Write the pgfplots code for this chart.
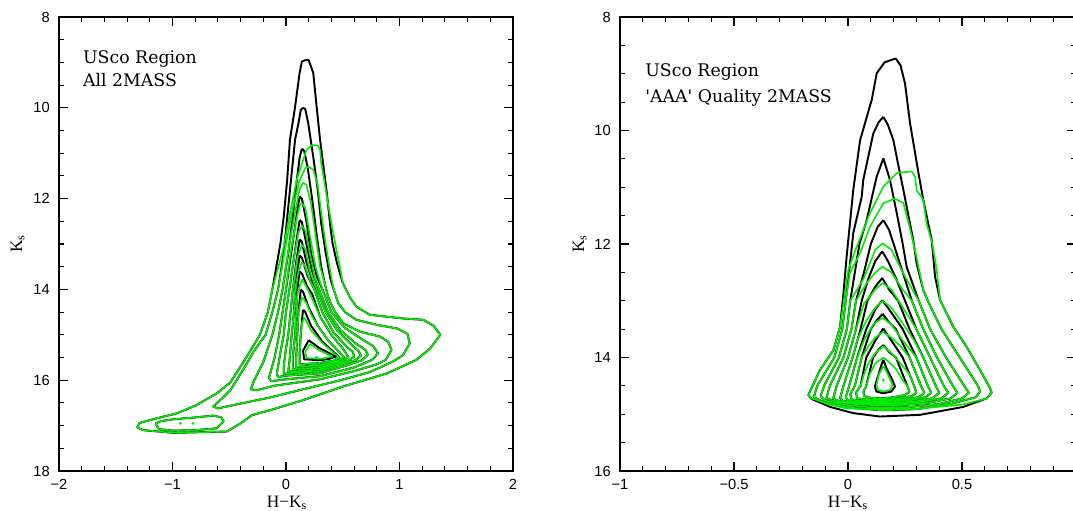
\documentclass[border=0pt]{standalone}
\usepackage{fontspec}
\setmainfont{Liberation Sans}
\newfontfamily\serif{Liberation Serif}
\newfontfamily\anno{DejaVu Serif}
\usepackage{pgfplots}
\pgfplotsset{compat=1.18}
\definecolor{cgreen}{RGB}{0,235,0}
\pgfplotsset{
 bl/.style={black, line width=1.45pt, line join=round, mark=none},
 gr/.style={cgreen, line width=1.2pt, line join=round, mark=none},
 common/.style={
  anchor=south west, scale only axis,
  y dir=reverse,
  axis line style={line width=1.3pt},
  major tick length=6.5pt, minor tick length=3.5pt,
  tick style={black, line width=0.8pt},
  tick label style={font=\fontsize{11}{13}\selectfont, inner sep=0pt},
  xticklabel style={anchor=base, yshift=-13.7pt},
  yticklabel style={anchor=east, xshift=-6.75pt},
 }
}
\begin{document}
\begin{tikzpicture}
% ---------------- LEFT PANEL ----------------
\begin{axis}[common,
 at={(44.25pt,29.25pt)}, width=340.5pt, height=340.5pt,
 xmin=-2, xmax=2, ymin=8, ymax=18,
 xtick={-2,-1,0,1,2}, xticklabels={−2,−1,0,1,2},
 ytick={8,10,12,14,16,18}, yticklabels={8,10,12,14,16,18},
 minor x tick num=4, minor y tick num=3]
% black contours
\addplot[bl] coordinates {(0.17,8.95) (0.20,8.95) (0.24,9.23) (0.27,9.98) (0.30,10.7) (0.36,11.88) (0.39,12.6) (0.41,12.98) (0.45,13.43) (0.50,13.86) (0.56,14.16) (0.62,14.38) (0.74,14.56) (1.03,14.64) (1.21,14.67) (1.30,14.8) (1.36,15.0) (1.27,15.3) (1.15,15.55) (0.89,15.85) (0.50,16.14) (0.15,16.44) (-0.14,16.66) (-0.30,16.77) (-0.40,16.95) (-0.52,17.13) (-0.99,17.16) (-1.26,17.1) (-1.31,17.04) (-1.29,16.94) (-1.14,16.84) (-0.96,16.73) (-0.79,16.55) (-0.61,16.29) (-0.49,16.05) (-0.35,15.5) (-0.23,15.0) (-0.16,14.5) (-0.12,14.0) (-0.05,13.0) (-0.02,12.4) (0.01,11.6) (0.035,10.7) (0.08,9.98) (0.12,9.23) (0.14,8.98) (0.17,8.95)};
\addplot[bl] coordinates {(0.15,10.0) (0.17,10.03) (0.196,10.34) (0.24,11.08) (0.28,11.81) (0.31,12.54) (0.35,13.2) (0.39,13.75) (0.42,14.0) (0.46,14.3) (0.52,14.5) (0.62,14.67) (0.80,14.78) (0.98,14.86) (1.07,14.98) (1.09,15.19) (1.03,15.45) (0.95,15.58) (0.74,15.82) (0.45,16.02) (0.15,16.2) (-0.14,16.38) (-0.43,16.53) (-0.60,16.62) (-0.64,16.58) (-0.58,16.44) (-0.49,16.22) (-0.38,15.78) (-0.28,15.35) (-0.18,15.0) (-0.12,14.5) (-0.07,14.0) (-0.02,13.2) (0.02,12.18) (0.05,11.44) (0.08,10.7) (0.11,10.34) (0.13,10.05) (0.15,10.0)};
\addplot[bl] coordinates {(-1.15,16.95) (-1.10,16.9) (-0.99,16.86) (-0.80,16.82) (-0.64,16.78) (-0.57,16.82) (-0.55,16.9) (-0.61,17.06) (-0.80,17.1) (-0.99,17.11) (-1.12,17.08) (-1.15,16.95)};
\addplot[bl] coordinates {(0.14,10.9) (0.16,10.95) (0.19,11.3) (0.23,12.0) (0.27,12.8) (0.31,13.5) (0.34,13.85) (0.37,14.16) (0.42,14.45) (0.505,14.75) (0.65,14.93) (0.83,15.04) (0.90,15.15) (0.93,15.33) (0.88,15.55) (0.80,15.65) (0.60,15.8) (0.30,15.98) (-0.10,16.12) (-0.26,16.22) (-0.31,16.2) (-0.28,16.0) (-0.20,15.6) (-0.12,15.0) (-0.07,14.5) (-0.03,14.0) (0.02,13.2) (0.06,12.4) (0.09,11.7) (0.12,11.1) (0.14,10.9)};
\addplot[bl] coordinates {(0.12,11.95) (0.14,12.0) (0.18,12.5) (0.22,13.2) (0.27,13.7) (0.32,14.0) (0.40,14.5) (0.52,14.85) (0.67,15.1) (0.77,15.25) (0.81,15.41) (0.76,15.55) (0.60,15.72) (0.30,15.91) (0.00,15.98) (-0.13,16.02) (-0.15,15.95) (-0.10,15.5) (-0.06,15.0) (-0.03,14.5) (0.00,14.0) (0.04,13.3) (0.08,12.6) (0.11,12.1) (0.12,11.95)};
\addplot[bl] coordinates {(0.12,12.47) (0.14,12.52) (0.18,13.0) (0.23,13.6) (0.29,14.0) (0.37,14.5) (0.48,14.9) (0.62,15.2) (0.70,15.33) (0.72,15.44) (0.67,15.56) (0.50,15.7) (0.30,15.85) (0.00,15.9) (-0.07,15.93) (-0.08,15.85) (-0.05,15.4) (-0.02,15.0) (0.00,14.5) (0.03,14.0) (0.07,13.3) (0.10,12.8) (0.12,12.47)};
\addplot[bl] coordinates {(0.12,12.9) (0.14,12.95) (0.18,13.4) (0.23,13.8) (0.27,14.0) (0.35,14.5) (0.45,14.9) (0.57,15.2) (0.64,15.36) (0.66,15.46) (0.61,15.56) (0.45,15.68) (0.30,15.80) (0.05,15.84) (-0.02,15.86) (-0.02,15.7) (0.00,15.3) (0.02,15.0) (0.04,14.5) (0.06,14.0) (0.09,13.4) (0.12,12.9)};
\addplot[bl] coordinates {(0.12,13.25) (0.14,13.3) (0.19,13.7) (0.25,14.0) (0.32,14.5) (0.42,14.95) (0.53,15.25) (0.59,15.38) (0.60,15.48) (0.55,15.57) (0.40,15.68) (0.30,15.76) (0.10,15.8) (0.02,15.81) (0.03,15.6) (0.04,15.3) (0.05,15.0) (0.07,14.5) (0.08,14.0) (0.10,13.6) (0.12,13.25)};
\addplot[bl] coordinates {(0.12,13.6) (0.14,13.65) (0.19,13.95) (0.23,14.1) (0.30,14.6) (0.40,15.0) (0.50,15.3) (0.55,15.49) (0.50,15.57) (0.30,15.72) (0.10,15.75) (0.06,15.76) (0.06,15.5) (0.08,15.0) (0.09,14.5) (0.10,14.0) (0.12,13.6)};
\addplot[bl] coordinates {(0.13,14.0) (0.15,14.05) (0.20,14.4) (0.28,14.8) (0.38,15.15) (0.47,15.38) (0.51,15.5) (0.45,15.58) (0.30,15.67) (0.09,15.71) (0.09,15.5) (0.10,15.0) (0.11,14.5) (0.13,14.0)};
\addplot[bl] coordinates {(0.15,14.45) (0.17,14.5) (0.22,14.8) (0.32,15.15) (0.42,15.38) (0.47,15.5) (0.42,15.57) (0.30,15.62) (0.12,15.65) (0.12,15.4) (0.13,15.0) (0.14,14.7) (0.15,14.45)};
\addplot[bl] coordinates {(0.20,15.12) (0.30,15.3) (0.44,15.48) (0.38,15.53) (0.30,15.56) (0.16,15.54) (0.15,15.35) (0.20,15.12)};
% green contours
\addplot[gr] coordinates {(0.23,10.82) (0.28,10.83) (0.30,10.93) (0.31,11.22) (0.36,11.96) (0.40,12.54) (0.45,13.2) (0.48,13.57) (0.50,13.86) (0.56,14.16) (0.62,14.38) (0.74,14.56) (1.03,14.64) (1.21,14.67) (1.30,14.8) (1.36,15.0) (1.27,15.3) (1.15,15.55) (0.89,15.85) (0.50,16.14) (0.15,16.44) (-0.14,16.66) (-0.30,16.77) (-0.40,16.95) (-0.52,17.13) (-0.99,17.16) (-1.26,17.1) (-1.31,17.04) (-1.29,16.94) (-1.14,16.84) (-0.96,16.73) (-0.79,16.55) (-0.61,16.29) (-0.49,16.05) (-0.35,15.5) (-0.23,15.0) (-0.16,14.5) (-0.12,14.0) (-0.02,13.06) (0.035,12.32) (0.094,11.59) (0.18,10.93) (0.23,10.82)};
\addplot[gr] coordinates {(0.20,11.3) (0.24,11.36) (0.28,11.7) (0.31,12.3) (0.35,13.0) (0.39,13.6) (0.42,14.0) (0.46,14.3) (0.52,14.5) (0.62,14.67) (0.80,14.78) (0.98,14.86) (1.07,14.98) (1.09,15.19) (1.03,15.45) (0.95,15.58) (0.74,15.82) (0.45,16.02) (0.15,16.2) (-0.14,16.38) (-0.43,16.53) (-0.60,16.62) (-0.64,16.58) (-0.58,16.44) (-0.49,16.22) (-0.38,15.78) (-0.28,15.35) (-0.18,15.0) (-0.12,14.5) (-0.07,14.0) (0.0,13.0) (0.06,12.2) (0.12,11.6) (0.17,11.33) (0.20,11.3)};
\addplot[gr] coordinates {(-1.15,16.95) (-1.10,16.9) (-0.99,16.86) (-0.80,16.82) (-0.64,16.78) (-0.57,16.82) (-0.55,16.9) (-0.61,17.06) (-0.80,17.1) (-0.99,17.11) (-1.12,17.08) (-1.15,16.95)};
\addplot[gr] coordinates {(0.15,11.65) (0.18,11.7) (0.22,12.1) (0.26,12.8) (0.30,13.5) (0.34,13.85) (0.37,14.16) (0.42,14.45) (0.505,14.75) (0.65,14.93) (0.83,15.04) (0.90,15.15) (0.93,15.33) (0.88,15.55) (0.80,15.65) (0.60,15.8) (0.30,15.98) (-0.10,16.12) (-0.26,16.22) (-0.31,16.2) (-0.28,16.0) (-0.20,15.6) (-0.12,15.0) (-0.07,14.5) (-0.03,14.0) (0.03,13.0) (0.08,12.3) (0.12,11.8) (0.15,11.65)};
\addplot[gr] coordinates {(0.14,12.1) (0.17,12.2) (0.21,12.8) (0.26,13.5) (0.32,14.0) (0.40,14.5) (0.52,14.85) (0.67,15.1) (0.77,15.25) (0.81,15.41) (0.76,15.55) (0.60,15.72) (0.30,15.91) (0.00,15.98) (-0.13,16.02) (-0.15,15.95) (-0.10,15.5) (-0.06,15.0) (-0.03,14.5) (0.00,14.0) (0.04,13.2) (0.09,12.5) (0.12,12.15) (0.14,12.1)};
\addplot[gr] coordinates {(0.14,12.6) (0.17,12.7) (0.21,13.2) (0.25,13.7) (0.29,14.0) (0.37,14.5) (0.48,14.9) (0.62,15.2) (0.70,15.33) (0.72,15.44) (0.67,15.56) (0.50,15.7) (0.30,15.85) (0.00,15.9) (-0.07,15.93) (-0.08,15.85) (-0.05,15.4) (-0.02,15.0) (0.00,14.5) (0.03,14.0) (0.07,13.3) (0.11,12.75) (0.14,12.6)};
\addplot[gr] coordinates {(0.14,13.02) (0.17,13.1) (0.21,13.6) (0.27,14.0) (0.35,14.5) (0.45,14.9) (0.57,15.2) (0.64,15.36) (0.66,15.46) (0.61,15.56) (0.45,15.68) (0.30,15.80) (0.05,15.84) (-0.02,15.86) (-0.02,15.7) (0.00,15.3) (0.02,15.0) (0.04,14.5) (0.06,14.0) (0.10,13.3) (0.14,13.02)};
\addplot[gr] coordinates {(0.14,13.4) (0.17,13.5) (0.21,13.8) (0.25,14.0) (0.32,14.5) (0.42,14.95) (0.53,15.25) (0.59,15.38) (0.60,15.48) (0.55,15.57) (0.40,15.68) (0.30,15.76) (0.10,15.8) (0.02,15.81) (0.03,15.6) (0.04,15.3) (0.05,15.0) (0.07,14.5) (0.08,14.0) (0.11,13.6) (0.14,13.4)};
\addplot[gr] coordinates {(0.14,13.78) (0.17,13.9) (0.23,14.2) (0.30,14.6) (0.40,15.0) (0.50,15.3) (0.55,15.49) (0.50,15.57) (0.30,15.72) (0.10,15.75) (0.06,15.76) (0.06,15.5) (0.08,15.0) (0.09,14.5) (0.10,14.1) (0.14,13.78)};
\addplot[gr] coordinates {(0.14,14.17) (0.18,14.3) (0.22,14.55) (0.28,14.8) (0.38,15.15) (0.47,15.38) (0.51,15.5) (0.45,15.58) (0.30,15.67) (0.09,15.71) (0.09,15.5) (0.10,15.0) (0.11,14.5) (0.14,14.17)};
\addplot[gr] coordinates {(0.16,14.62) (0.18,14.7) (0.22,14.9) (0.32,15.18) (0.42,15.4) (0.47,15.5) (0.42,15.57) (0.30,15.62) (0.12,15.65) (0.12,15.4) (0.13,15.0) (0.14,14.75) (0.16,14.62)};
\addplot[gr] coordinates {(0.21,15.2) (0.30,15.35) (0.41,15.48) (0.30,15.53) (0.18,15.51) (0.17,15.38) (0.21,15.2)};
\addplot[cgreen, only marks, mark=*, mark size=0.9pt] coordinates {(-0.93,16.95) (-0.82,16.95) (0.27,15.5)};
\node[anchor=base west, inner sep=0pt, font=\anno\fontsize{13}{15}\selectfont] at (axis cs:-1.79,9.035) {USco Region};
\node[anchor=base west, inner sep=0pt, font=\anno\fontsize{13}{15}\selectfont] at (axis cs:-1.79,9.535) {All 2MASS};
\end{axis}
% ---------------- RIGHT PANEL ----------------
\begin{axis}[common,
 at={(465pt,29.25pt)}, width=342pt, height=340.5pt,
 xmin=-1, xmax=1, ymin=8, ymax=16,
 xtick={-1,-0.5,0,0.5,1}, xticklabels={−1,−0.5,0,0.5,{}},
 ytick={8,10,12,14,16}, yticklabels={8,10,12,14,16},
 minor x tick num=4, minor y tick num=3]
% black contours
\addplot[bl] coordinates {(0.209,8.73) (0.23,8.85) (0.25,9.17) (0.272,9.87) (0.309,10.75) (0.33,11.22) (0.367,11.93) (0.382,12.58) (0.404,12.99) (0.462,13.46) (0.52,13.81) (0.579,14.22) (0.623,14.54) (0.63,14.62) (0.608,14.72) (0.506,14.87) (0.316,15.01) (0.14,15.04) (0.023,14.98) (-0.079,14.87) (-0.16,14.73) (-0.174,14.66) (-0.167,14.6) (-0.123,14.22) (-0.064,13.87) (-0.035,13.46) (-0.02,12.87) (-0.006,12.22) (0.023,11.05) (0.053,10.17) (0.104,9.46) (0.126,8.99) (0.16,8.8) (0.209,8.73)};
\addplot[bl] coordinates {(0.155,9.76) (0.175,9.9) (0.199,10.17) (0.22,10.6) (0.243,11.05) (0.265,11.5) (0.286,11.93) (0.301,12.34) (0.33,12.81) (0.35,13.0) (0.41,13.5) (0.49,14.0) (0.57,14.5) (0.58,14.6) (0.56,14.7) (0.45,14.82) (0.30,14.91) (0.15,14.93) (0.0,14.88) (-0.10,14.8) (-0.15,14.7) (-0.135,14.5) (-0.06,14.0) (-0.025,13.5) (-0.01,13.0) (0.009,12.34) (0.023,11.81) (0.06,11.17) (0.067,10.87) (0.111,10.05) (0.135,9.85) (0.155,9.76)};
\addplot[bl] coordinates {(0.155,10.49) (0.184,10.87) (0.214,11.46) (0.24,12.0) (0.257,12.4) (0.31,13.0) (0.36,13.5) (0.43,14.0) (0.51,14.5) (0.53,14.62) (0.50,14.72) (0.40,14.82) (0.25,14.88) (0.10,14.88) (-0.02,14.83) (-0.10,14.76) (-0.12,14.68) (-0.105,14.5) (-0.04,14.0) (-0.005,13.5) (0.01,13.0) (0.05,12.0) (0.082,11.58) (0.115,11.0) (0.126,10.81) (0.155,10.49)};
\addplot[bl] coordinates {(0.155,11.58) (0.18,11.75) (0.20,12.0) (0.24,12.5) (0.28,13.0) (0.33,13.5) (0.39,14.0) (0.46,14.5) (0.48,14.62) (0.45,14.72) (0.35,14.8) (0.20,14.85) (0.05,14.83) (-0.05,14.78) (-0.095,14.72) (-0.08,14.5) (-0.02,14.0) (0.015,13.5) (0.035,13.0) (0.07,12.5) (0.10,12.0) (0.13,11.7) (0.155,11.58)};
\addplot[bl] coordinates {(0.15,12.13) (0.175,12.3) (0.21,12.6) (0.25,13.0) (0.30,13.5) (0.36,14.0) (0.42,14.5) (0.44,14.62) (0.41,14.72) (0.32,14.78) (0.20,14.83) (0.05,14.81) (-0.04,14.77) (-0.065,14.72) (-0.05,14.5) (0.0,14.0) (0.035,13.5) (0.06,13.0) (0.09,12.6) (0.12,12.3) (0.15,12.13)};
\addplot[bl] coordinates {(0.15,12.6) (0.18,12.8) (0.22,13.0) (0.27,13.5) (0.33,14.0) (0.385,14.5) (0.40,14.62) (0.37,14.72) (0.30,14.77) (0.18,14.81) (0.05,14.8) (-0.02,14.77) (-0.035,14.72) (-0.02,14.5) (0.02,14.0) (0.055,13.5) (0.085,13.0) (0.12,12.75) (0.15,12.6)};
\addplot[bl] coordinates {(0.15,12.99) (0.18,13.15) (0.24,13.5) (0.30,14.0) (0.35,14.5) (0.365,14.62) (0.34,14.7) (0.28,14.75) (0.15,14.79) (0.05,14.78) (0.0,14.76) (-0.01,14.7) (0.005,14.5) (0.04,14.0) (0.08,13.5) (0.12,13.15) (0.15,12.99)};
\addplot[bl] coordinates {(0.152,13.23) (0.18,13.38) (0.21,13.5) (0.27,14.0) (0.32,14.5) (0.335,14.62) (0.31,14.7) (0.25,14.74) (0.15,14.77) (0.06,14.76) (0.015,14.74) (0.01,14.65) (0.03,14.5) (0.06,14.0) (0.10,13.5) (0.125,13.35) (0.152,13.23)};
\addplot[bl] coordinates {(0.155,13.49) (0.19,13.7) (0.24,14.0) (0.29,14.5) (0.30,14.62) (0.28,14.68) (0.22,14.72) (0.15,14.75) (0.08,14.74) (0.04,14.72) (0.035,14.62) (0.055,14.5) (0.08,14.0) (0.12,13.7) (0.155,13.49)};
\addplot[bl] coordinates {(0.155,13.78) (0.18,13.9) (0.21,14.0) (0.26,14.5) (0.27,14.6) (0.25,14.66) (0.20,14.7) (0.15,14.72) (0.10,14.71) (0.07,14.68) (0.068,14.6) (0.08,14.5) (0.11,14.0) (0.13,13.88) (0.155,13.78)};
\addplot[bl] coordinates {(0.155,14.04) (0.17,14.2) (0.195,14.4) (0.206,14.51) (0.19,14.6) (0.155,14.63) (0.125,14.6) (0.118,14.51) (0.13,14.35) (0.145,14.15) (0.155,14.04)};
% green contours
\addplot[gr] coordinates {(0.214,10.75) (0.279,10.72) (0.294,10.81) (0.301,11.05) (0.33,11.22) (0.345,11.64) (0.37,12.0) (0.389,12.46) (0.404,12.99) (0.462,13.46) (0.52,13.81) (0.579,14.22) (0.623,14.54) (0.63,14.62) (0.61,14.72) (0.50,14.83) (0.316,14.9) (0.15,14.91) (-0.006,14.9) (-0.08,14.83) (-0.16,14.72) (-0.174,14.67) (-0.167,14.6) (-0.123,14.22) (-0.064,13.87) (-0.035,13.46) (-0.015,12.9) (0.001,12.46) (0.038,12.05) (0.096,11.46) (0.155,10.99) (0.214,10.75)};
\addplot[gr] coordinates {(0.206,11.2) (0.243,11.28) (0.27,11.7) (0.30,12.22) (0.33,12.81) (0.35,13.0) (0.41,13.5) (0.49,14.0) (0.57,14.5) (0.58,14.6) (0.56,14.7) (0.45,14.82) (0.30,14.91) (0.15,14.93) (0.0,14.88) (-0.10,14.8) (-0.15,14.7) (-0.135,14.5) (-0.06,14.0) (-0.025,13.5) (-0.01,13.0) (0.009,12.5) (0.053,12.16) (0.096,11.7) (0.155,11.28) (0.206,11.2)};
\addplot[gr] coordinates {(0.152,11.99) (0.19,12.1) (0.24,12.5) (0.31,13.0) (0.36,13.5) (0.43,14.0) (0.51,14.5) (0.53,14.62) (0.50,14.72) (0.40,14.82) (0.25,14.88) (0.10,14.88) (-0.02,14.83) (-0.10,14.76) (-0.12,14.68) (-0.105,14.5) (-0.04,14.0) (-0.005,13.5) (0.01,13.0) (0.07,12.6) (0.12,12.1) (0.152,11.99)};
\addplot[gr] coordinates {(0.152,12.4) (0.19,12.5) (0.24,12.8) (0.28,13.0) (0.33,13.5) (0.39,14.0) (0.46,14.5) (0.48,14.62) (0.45,14.72) (0.35,14.8) (0.20,14.85) (0.05,14.83) (-0.05,14.78) (-0.095,14.72) (-0.08,14.5) (-0.02,14.0) (0.015,13.5) (0.035,13.0) (0.08,12.7) (0.12,12.5) (0.152,12.4)};
\addplot[gr] coordinates {(0.152,12.69) (0.19,12.8) (0.23,13.05) (0.30,13.5) (0.36,14.0) (0.42,14.5) (0.44,14.62) (0.41,14.72) (0.32,14.78) (0.20,14.83) (0.05,14.81) (-0.04,14.77) (-0.065,14.72) (-0.05,14.5) (0.0,14.0) (0.035,13.5) (0.07,13.05) (0.12,12.8) (0.152,12.69)};
\addplot[gr] coordinates {(0.152,13.0) (0.19,13.12) (0.24,13.4) (0.29,13.7) (0.33,14.0) (0.385,14.5) (0.40,14.62) (0.37,14.72) (0.30,14.77) (0.18,14.81) (0.05,14.8) (-0.02,14.77) (-0.035,14.72) (-0.02,14.5) (0.02,14.0) (0.04,13.7) (0.08,13.35) (0.12,13.12) (0.152,13.0)};
\addplot[gr] coordinates {(0.152,13.3) (0.19,13.42) (0.24,13.7) (0.30,14.0) (0.35,14.5) (0.365,14.62) (0.34,14.7) (0.28,14.75) (0.15,14.79) (0.05,14.78) (0.0,14.76) (-0.01,14.7) (0.005,14.5) (0.04,14.0) (0.07,13.7) (0.11,13.42) (0.152,13.3)};
\addplot[gr] coordinates {(0.152,13.55) (0.19,13.65) (0.23,13.8) (0.27,14.0) (0.32,14.5) (0.335,14.62) (0.31,14.7) (0.25,14.74) (0.15,14.77) (0.06,14.76) (0.015,14.74) (0.01,14.65) (0.03,14.5) (0.06,14.0) (0.09,13.8) (0.12,13.65) (0.152,13.55)};
\addplot[gr] coordinates {(0.155,13.8) (0.19,13.92) (0.23,14.1) (0.27,14.3) (0.29,14.5) (0.30,14.62) (0.28,14.68) (0.22,14.72) (0.15,14.75) (0.08,14.74) (0.04,14.72) (0.035,14.62) (0.055,14.5) (0.07,14.3) (0.09,14.1) (0.12,13.92) (0.155,13.8)};
\addplot[gr] coordinates {(0.155,14.0) (0.18,14.08) (0.21,14.2) (0.24,14.4) (0.26,14.5) (0.27,14.6) (0.25,14.66) (0.20,14.7) (0.15,14.72) (0.10,14.71) (0.07,14.68) (0.068,14.6) (0.08,14.5) (0.095,14.3) (0.12,14.1) (0.155,14.0)};
\addplot[gr] coordinates {(0.155,14.15) (0.175,14.3) (0.195,14.48) (0.185,14.57) (0.155,14.6) (0.13,14.57) (0.125,14.48) (0.135,14.3) (0.155,14.15)};
\addplot[cgreen, only marks, mark=*, mark size=0.9pt] coordinates {(0.155,14.4)};
\node[anchor=base west, inner sep=0pt, font=\anno\fontsize{13}{15}\selectfont] at (axis cs:-0.89,9.04) {USco Region};
\node[anchor=base west, inner sep=0pt, font=\anno\fontsize{13}{15}\selectfont] at (axis cs:-0.89,9.50) {'AAA' Quality 2MASS};
\end{axis}
% axis labels
\node[anchor=base, inner sep=0pt, font=\serif\fontsize{13}{15}\selectfont] at (215.25pt,2.25pt) {H−K\textsubscript{s}};
\node[anchor=base, inner sep=0pt, font=\serif\fontsize{13}{15}\selectfont] at (636pt,2.25pt) {H−K\textsubscript{s}};
\node[anchor=base, rotate=90, inner sep=0pt, font=\serif\fontsize{13}{15}\selectfont] at (16.5pt,199.5pt) {K\textsubscript{s}};
\node[anchor=base, rotate=90, inner sep=0pt, font=\serif\fontsize{13}{15}\selectfont] at (438pt,199.5pt) {K\textsubscript{s}};
\pgfresetboundingbox
\path[use as bounding box] (0,0) rectangle (804.75pt,382.5pt);
\end{tikzpicture}
\end{document}
